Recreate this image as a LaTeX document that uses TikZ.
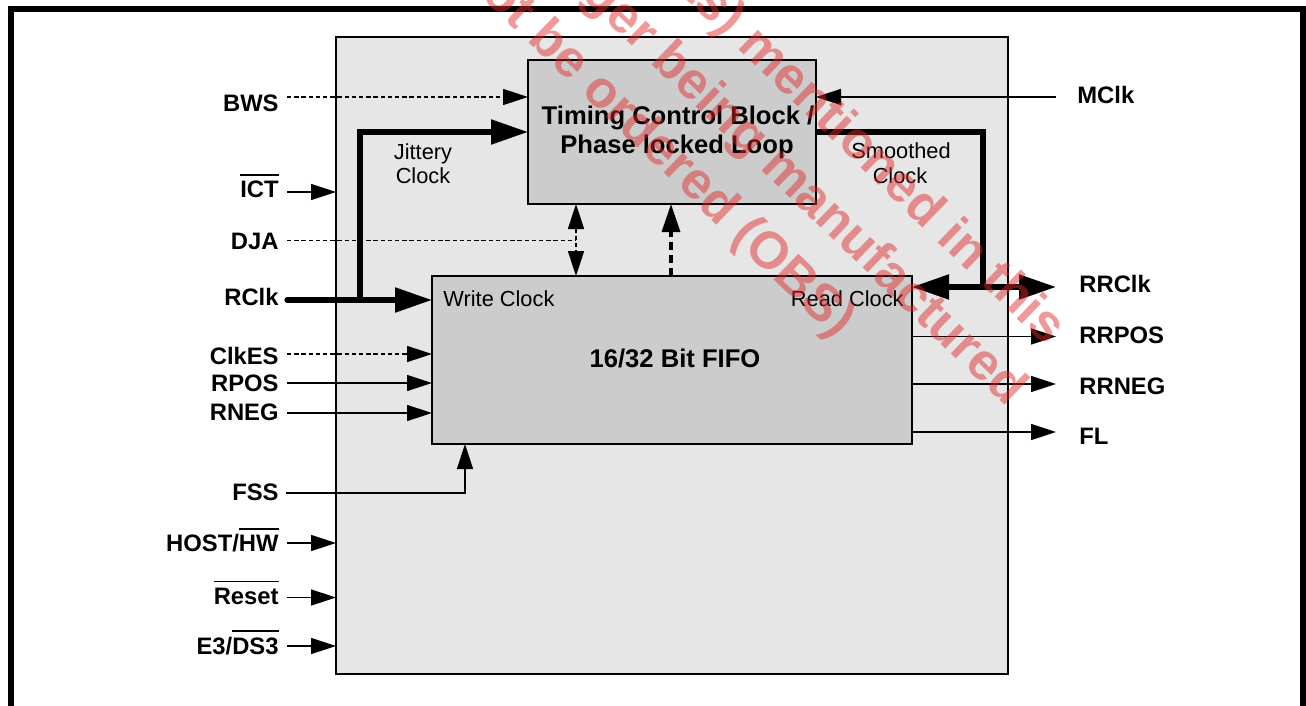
\documentclass[tikz,border=0pt]{standalone}
\usepackage{fontspec}
\setmainfont{Liberation Sans}
\usetikzlibrary{arrows.meta}
\definecolor{boxgray}{RGB}{230,230,230}
\definecolor{blockgray}{RGB}{204,204,204}
\definecolor{wmred}{RGB}{225,40,40}
\newcommand\ovl[1]{\leavevmode\vbox{\hrule height 0.9pt\kern 2.6pt\hbox{#1}}}
\begin{document}
\begin{tikzpicture}[x=0.5pt,y=-0.5pt,
  lbl/.style={font=\fontsize{11.9}{14}\selectfont\bfseries, inner sep=0pt},
  blk/.style={font=\fontsize{12.8}{14.5}\selectfont\bfseries, inner sep=0pt},
  sml/.style={font=\fontsize{10.9}{13}\selectfont, inner sep=0pt},
  wm/.style={font=\fontsize{26}{30}\selectfont\bfseries, text=wmred, text opacity=0.48, inner sep=0pt, rotate=-44, anchor=mid east},
  thinl/.style={line width=0.75pt},
  thindash/.style={line width=0.8pt, dash pattern=on 2.2pt off 1.4pt},
  thickl/.style={line width=2.6pt},
  thickdash/.style={line width=1.7pt, dash pattern=on 4pt off 2.5pt},
  tinTip/.tip={Triangle[length=12.5pt,width=8pt]},
  bigTip/.tip={Triangle[length=18.5pt,width=12pt]},
  midTip/.tip={Triangle[length=14pt,width=9pt]},
  boxstyle/.style={draw, line width=0.9pt, inner sep=0pt, outer sep=0pt, anchor=north west}
]
\useasboundingbox (0,0) rectangle (1306,706);
\clip (0,0) rectangle (1306,706);

% outer frame
\draw[line width=3pt] (11,9) rectangle (1303,760);

% boxes
\node[boxstyle, fill=boxgray, minimum width=336pt, minimum height=318.5pt] (inner) at (336,37) {};
\node[boxstyle, fill=blockgray, minimum width=144pt, minimum height=72pt] (tcb) at (528,60) {};
\node[boxstyle, fill=blockgray, minimum width=240pt, minimum height=84pt] (fifo) at (432,276) {};

% box texts
\node[blk, anchor=base] (tcbt1) at (678,125) {Timing Control Block /};
\node[blk, anchor=base] (tcbt2) at (677,154) {Phase locked Loop};
\node[blk, anchor=base] (fifot) at (675,367) {16/32 Bit FIFO};
\node[sml, anchor=base west] (wclk) at (443,306) {Write Clock};
\node[sml, anchor=base east] (rclkt) at (904,306) {Read Clock};
\node[sml, anchor=base] (jit1) at (423,159) {Jittery};
\node[sml, anchor=base] (jit2) at (423,184) {Clock};
\node[sml, anchor=base] (smo1) at (901,158.5) {Smoothed};
\node[sml, anchor=base] (smo2) at (900,184) {Clock};

% left labels
\node[lbl, anchor=base east] (bws) at (279,111.5) {BWS};
\node[lbl, anchor=base east] (ict) at (279,197.5) {\ovl{ICT}};
\node[lbl, anchor=base east] (dja) at (279,249) {DJA};
\node[lbl, anchor=base east] (rclk) at (279,305.5) {RClk};
\node[lbl, anchor=base east] (clkes) at (279,364) {ClkES};
\node[lbl, anchor=base east] (rpos) at (279,391.7) {RPOS};
\node[lbl, anchor=base east] (rneg) at (279,420.7) {RNEG};
\node[lbl, anchor=base east] (fss) at (279,500.7) {FSS};
\node[lbl, anchor=base east] (host) at (279,551.5) {HOST/\ovl{HW}};
\node[lbl, anchor=base east] (reset) at (279,604) {\ovl{Reset}};
\node[lbl, anchor=base east] (e3) at (279,654) {E3/\ovl{DS3}};

% right labels
\node[lbl, anchor=base west] (mclk) at (1077,104) {MClk};
\node[lbl, anchor=base west] (rrclk) at (1079,292.7) {RRClk};
\node[lbl, anchor=base west] (rrpos) at (1079,343.5) {RRPOS};
\node[lbl, anchor=base west] (rrneg) at (1079,394) {RRNEG};
\node[lbl, anchor=base west] (fl) at (1079,444.3) {FL};

% connector end coordinates
\coordinate (bwsS) at (287,97);
\coordinate (ictS) at (287,192);
\coordinate (djaS) at (287,240.5);
\coordinate (djaX) at (576,240.5);
\coordinate (rclkS) at (287,300);
\coordinate (jbr) at (360,300);
\coordinate (clkesS) at (287,354);
\coordinate (rposS) at (287,383);
\coordinate (rnegS) at (287,413);
\coordinate (fssS) at (286,493);
\coordinate (fssX) at (465,493);
\coordinate (hostS) at (287,543);
\coordinate (resetS) at (287,597.5);
\coordinate (e3S) at (287,646);
\coordinate (mclkS) at (1056,97);
\coordinate (smoX) at (983,132);
\coordinate (rrclkE) at (1056,287);
\coordinate (rrposE) at (1056,336.5);
\coordinate (rrnegE) at (1056,384);
\coordinate (flE) at (1056,432);
\coordinate (upX) at (671,0);

% left inputs
\draw[thindash, -tinTip] (bwsS) -- (bwsS -| tcb.west);
\draw[thinl, -tinTip] (ictS) -- (ictS -| inner.west);
\draw[thindash] (djaS) -- (djaX);
\draw[thindash, tinTip-tinTip] (djaX |- tcb.south) -- (djaX |- fifo.north);
\draw[thickl, line cap=round, -bigTip] (rclkS) -- (rclkS -| fifo.west);
\draw[thickl, -bigTip] (jbr) |- (jbr |- 0,132) -- (0,132 -| tcb.west);
\draw[thindash, -tinTip] (clkesS) -- (clkesS -| fifo.west);
\draw[thinl, -tinTip] (rposS) -- (rposS -| fifo.west);
\draw[thinl, -tinTip] (rnegS) -- (rnegS -| fifo.west);
\draw[thinl, -tinTip] (fssS) -- (fssX) -- (fssX |- fifo.south);
\draw[thinl, -tinTip] (hostS) -- (hostS -| inner.west);
\draw[thinl, -tinTip] (resetS) -- (resetS -| inner.west);
\draw[thinl, -tinTip] (e3S) -- (e3S -| inner.west);

% FIFO to timing
\draw[thickdash, -midTip] (upX |- fifo.north) -- (upX |- tcb.south);

% right side
\draw[thinl, -tinTip] (mclkS) -- (mclkS -| tcb.east);
\draw[thickl] (smoX -| tcb.east) -- (smoX) -- (smoX |- rrclkE);
\draw[thickl, bigTip-bigTip] (rrclkE -| fifo.east) -- (rrclkE);
\draw[thinl, -tinTip] (rrposE -| fifo.east) -- (rrposE);
\draw[thinl, -tinTip] (rrnegE -| fifo.east) -- (rrnegE);
\draw[thinl, -tinTip] (flE -| fifo.east) -- (flE);

% watermark
\node[wm] (wm1) at (1050,343) {ts) mentioned in this};
\node[wm] (wm2) at (1011,404) {ger being manufactured};
\node[wm] (wm3) at (840,336) {ot be ordered (OBS)};
\end{tikzpicture}
\end{document}
